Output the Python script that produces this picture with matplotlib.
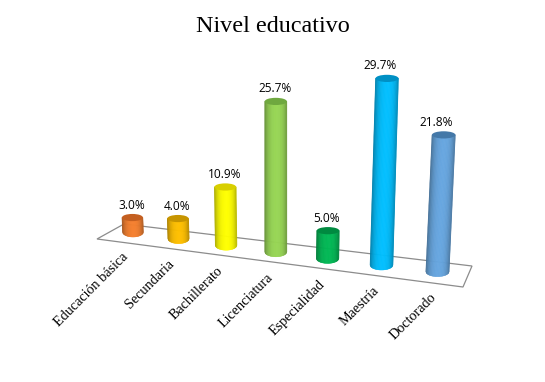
import numpy as np
import matplotlib
matplotlib.use('Agg')
import matplotlib.pyplot as plt
from matplotlib.colors import to_rgb
from matplotlib.patches import Ellipse, Polygon

categorias = ['Educación básica', 'Secundaria', 'Bachillerato', 'Licenciatura',
              'Especialidad', 'Maestría', 'Doctorado']
valores = [3.0, 4.0, 10.9, 25.7, 5.0, 29.7, 21.8]
etiquetas = ['3.0%', '4.0%', '10.9%', '25.7%', '5.0%', '29.7%', '21.8%']
cores = ['#F5802F', '#FFC000', '#FFFF00', '#97D654', '#00B854', '#00BFFF', '#66A6E0']
topos = ['#C45F20', '#C79500', '#D8CF00', '#6FA83F', '#008A40', '#0090C4', '#4478A8']

fig = plt.figure(figsize=(5.45, 3.82), dpi=100)
ax = fig.add_axes([0, 0, 1, 1])
ax.set_xlim(0, 545)
ax.set_ylim(382, 0)
ax.axis('off')

ax.text(272.5, 26, 'Nivel educativo', family='Liberation Serif', fontsize=17.4,
        ha='center', va='center', color='black')

# piso do grafico
piso = [(97, 239), (124, 224), (472, 266), (463, 287)]
ax.add_patch(Polygon(piso, closed=True, fc='white', ec='#8c8c8c', lw=0.9, zorder=1))


def cilindro(i, v, cor, topo):
    # falsa perspectiva: cresce com a posicao da categoria
    xb = 133 + 45.5 * i + 1.05 * i * (i - 1)
    yb = 232 + 6.6 * i
    meia = 10.5 + 0.2 * i
    h = v * (4.75 + 0.17 * i + 0.023 * v)
    xt = xb + (xb - 276) * 0.00028 * h
    yt = yb - h
    ry_b, ry_t = 5.0, 3.6
    n = 40
    ts = np.linspace(-1, 1, n + 1)
    rgb = np.array(to_rgb(cor))
    for a, b in zip(ts[:-1], ts[1:]):
        m = (a + b) / 2
        sombra = 1 - 0.28 * abs(m) ** 3
        if m < 0:
            sombra -= 0.07 * abs(m)
        quad = [(xt + a * meia, yt), (xt + b * meia, yt),
                (xb + b * meia, yb + ry_b * np.sqrt(1 - b ** 2)),
                (xb + a * meia, yb + ry_b * np.sqrt(1 - a ** 2))]
        ax.add_patch(Polygon(quad, closed=True, fc=tuple(rgb * sombra), ec=tuple(rgb * sombra),
                             lw=0.3, zorder=3 + i))
    ax.add_patch(Ellipse((xt, yt), 2 * meia, 2 * ry_t, fc=topo, ec='none', zorder=3.5 + i))
    return xb, yb, yt


for i, (cat, v, et, cor, topo) in enumerate(zip(categorias, valores, etiquetas, cores, topos)):
    xb, yb, yt = cilindro(i, v, cor, topo)
    ax.text(xb - 1, yt - 12.5, et, family='Open Sans', fontsize=8.6, ha='center',
            va='center', color='black', zorder=20)
    ax.text(xb - 7 + 0.6 * i, yb + 23 + 0.2 * i, cat, family='Liberation Serif', fontsize=10.2,
            rotation=45, rotation_mode='anchor', ha='right', va='center', color='black', zorder=20)

fig.savefig('out.png', dpi=100, facecolor='white')
